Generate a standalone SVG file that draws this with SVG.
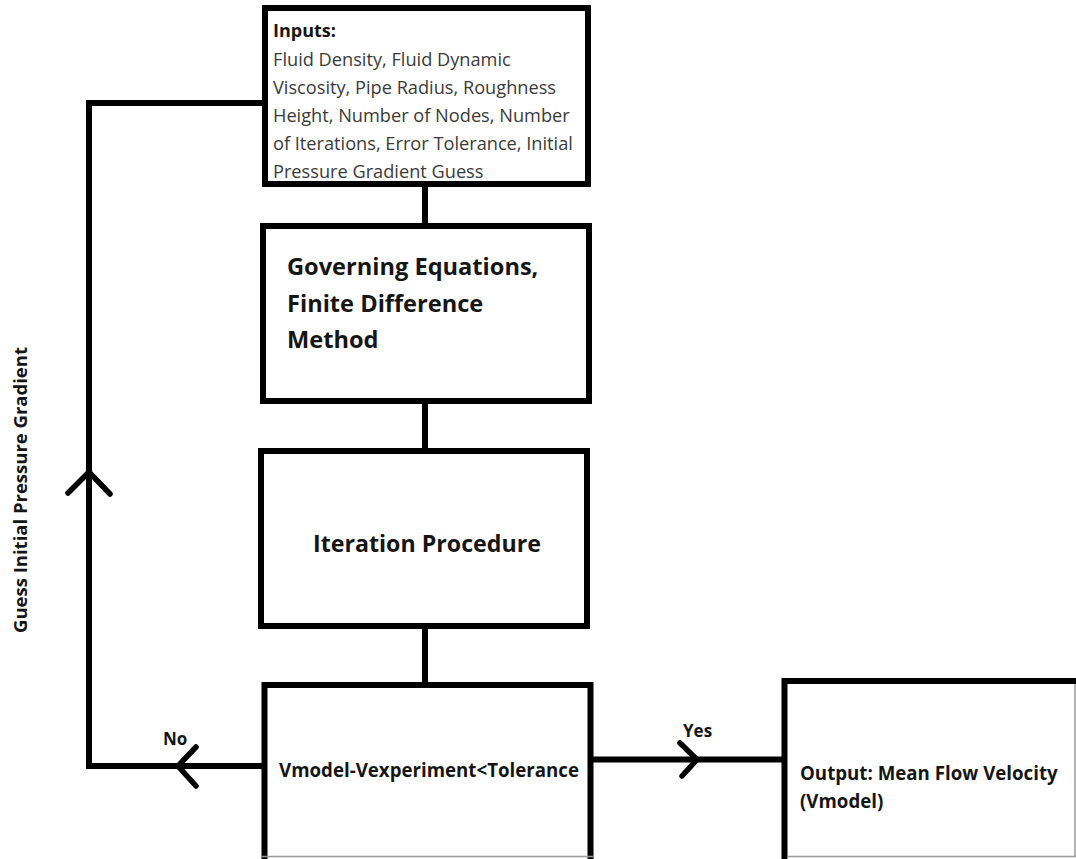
<svg xmlns="http://www.w3.org/2000/svg" width="1076" height="859" viewBox="0 0 1076 859">
<style>
.box{fill:#fff;stroke:#000;stroke-width:6}
.ln{fill:none;stroke:#000;stroke-width:6}
.thin{fill:none;stroke:#999;stroke-width:1.5}
.chev{fill:none;stroke:#000;stroke-width:5.5;stroke-linecap:round;stroke-linejoin:miter}
.b{font-family:"Open Sans","Noto Sans","Liberation Sans",sans-serif;font-weight:bold;fill:#151515}
.r{font-family:"Open Sans","Noto Sans","Liberation Sans",sans-serif;fill:#3a3a3a;font-size:18.2px}
</style>
<rect width="1076" height="859" fill="#fff"/>
<g id="connectors">
<path class="ln" d="M425,187 V223"/>
<path class="ln" d="M425,404 V448"/>
<path class="ln" d="M425,629 V682"/>
<path class="ln" d="M262,766 H89 V103 H262"/>
<path class="ln" d="M593,759.5 H782"/>
<path class="chev" d="M68,493 L89,472 L110,494"/>
<path class="chev" d="M196,747 L178,766 L196,786"/>
<path class="chev" d="M680,743 L697,759.5 L682,776"/>
<text class="b" x="163" y="745" font-size="17">No</text>
<text class="b" x="683" y="737" font-size="17">Yes</text>
<text class="b" transform="translate(27,490) rotate(-90)" text-anchor="middle" font-size="18.5">Guess Initial Pressure Gradient</text>
</g>
<g id="inputs">
<rect class="box" x="265" y="8" width="323" height="176"/>
<text class="b" x="273" y="37" font-size="18">Inputs:</text>
<text class="r" x="273" y="66">Fluid Density, Fluid Dynamic</text>
<text class="r" x="273" y="94">Viscosity, Pipe Radius, Roughness</text>
<text class="r" x="273" y="122">Height, Number of Nodes, Number</text>
<text class="r" x="273" y="150">of Iterations, Error Tolerance, Initial</text>
<text class="r" x="273" y="178">Pressure Gradient Guess</text>
</g>
<g id="governing">
<rect class="box" x="263" y="226" width="326" height="175"/>
<text class="b" x="287" y="275" font-size="23.6">Governing Equations,</text>
<text class="b" x="287" y="312" font-size="23.6">Finite Difference</text>
<text class="b" x="287" y="348" font-size="23.6">Method</text>
</g>
<g id="iteration">
<rect class="box" x="261" y="451" width="326" height="175"/>
<text class="b" x="313" y="552" font-size="23.2">Iteration Procedure</text>
</g>
<g id="decision">
<rect class="box" x="264.5" y="685" width="326" height="185"/>
<path class="thin" d="M262,856.5 H593"/>
<text class="b" x="279" y="777" font-size="18.7">Vmodel-Vexperiment&lt;Tolerance</text>
</g>
<g id="output">
<rect class="box" x="784.5" y="681" width="300" height="190"/>
<path class="thin" d="M1075,684 V857 M787,856.5 H1076"/>
<text class="b" x="800" y="780" font-size="18.7">Output: Mean Flow Velocity</text>
<text class="b" x="800" y="808" font-size="18.7">(Vmodel)</text>
</g>
</svg>
